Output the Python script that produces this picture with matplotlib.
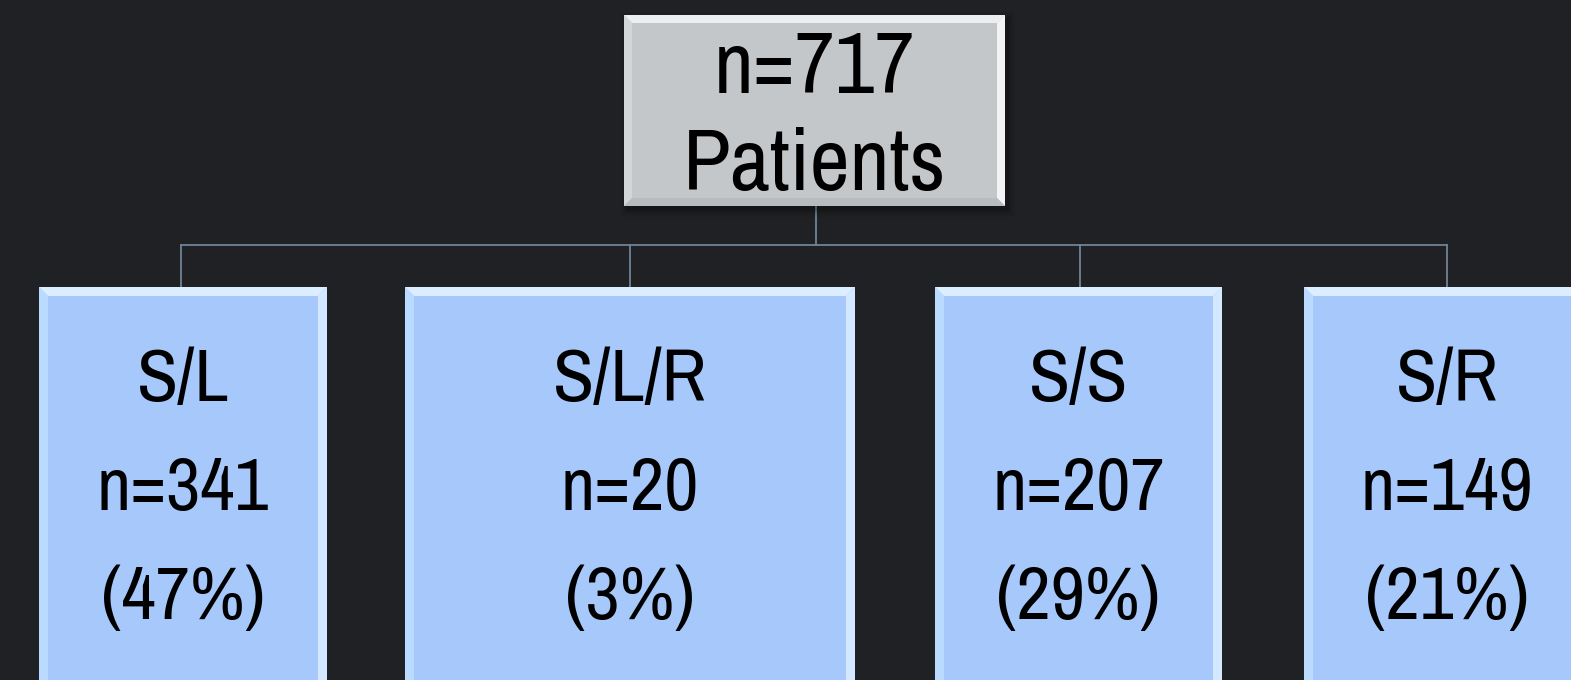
import matplotlib
matplotlib.use("Agg")
import matplotlib.pyplot as plt
from matplotlib.patches import Rectangle, Polygon
from matplotlib import font_manager

root_label = ["n=717", "Patients"]
labels = ["S/L", "S/L/R", "S/S", "S/R"]
counts = [341, 20, 207, 149]
percents = [47, 3, 29, 21]

W, H = 1571, 680
fig = plt.figure(figsize=(W / 100, H / 100), dpi=100)
fig.patch.set_facecolor("#202124")
ax = fig.add_axes([0, 0, 1, 1])
ax.set_xlim(0, W)
ax.set_ylim(H, 0)
ax.axis("off")

names = {f.name for f in font_manager.fontManager.ttflist}
fam_list = [f for f in ["Archivo Narrow", "Roboto Condensed", "DejaVu Sans"] if f in names] + ["DejaVu Sans"]

# layout (pixels)
root_box = (624, 15, 1005, 206)
child_boxes = [(39, 287, 327, 700), (405, 287, 855, 700), (935, 287, 1222, 700), (1304, 287, 1590, 700)]
child_cx = [181, 630, 1080, 1447]
bus_y = 245
line_col = "#6f8397"


def bevel_box(x0, y0, x1, y1, face, top, left, right, bottom, b=9, shadow=False):
    if shadow:
        for i, a in enumerate([0.12, 0.09, 0.06, 0.04]):
            d = 1 + i * 2
            ax.add_patch(Rectangle((x0 - d + 3, y0 - d + 4), (x1 - x0) + 2 * d, (y1 - y0) + 2 * d,
                                   facecolor="black", edgecolor="none", alpha=a, zorder=1))
    ax.add_patch(Rectangle((x0, y0), x1 - x0, y1 - y0, facecolor=face, edgecolor="none", zorder=2))
    ax.add_patch(Polygon([(x0, y0), (x1, y0), (x1 - b, y0 + b), (x0 + b, y0 + b)], closed=True,
                         facecolor=top, edgecolor="none", zorder=3))
    ax.add_patch(Polygon([(x0, y0), (x0 + b, y0 + b), (x0 + b, y1 - b), (x0, y1)], closed=True,
                         facecolor=left, edgecolor="none", zorder=3))
    ax.add_patch(Polygon([(x1, y0), (x1 - b, y0 + b), (x1 - b, y1 - b), (x1, y1)], closed=True,
                         facecolor=right, edgecolor="none", zorder=3))
    ax.add_patch(Polygon([(x0, y1), (x0 + b, y1 - b), (x1 - b, y1 - b), (x1, y1)], closed=True,
                         facecolor=bottom, edgecolor="none", zorder=3))


# connectors
cx_root = (root_box[0] + root_box[2]) / 2 + 2
ax.plot([cx_root, cx_root], [root_box[3], bus_y], color=line_col, lw=1.3, zorder=1)
ax.plot([child_cx[0], child_cx[-1]], [bus_y, bus_y], color=line_col, lw=1.3, zorder=1)
for cx in child_cx:
    ax.plot([cx, cx], [bus_y, 287], color=line_col, lw=1.3, zorder=1)

# root box
bevel_box(*root_box, face="#c4c7ca", top="#eceef0", left="#d3d6d8", right="#f2f3f4",
          bottom="#b9bcbf", b=8, shadow=True)
rcx = (root_box[0] + root_box[2]) / 2
for txt, yb in zip(root_label, [93, 190]):
    ax.text(rcx, yb, txt, ha="center", va="baseline", fontsize=63, family=fam_list,
            color="black", zorder=5)

# child boxes
for box, cx, lab, n, p in zip(child_boxes, child_cx, labels, counts, percents):
    x0, y0, x1, y1 = box
    bevel_box(x0, y0, x1, y1, face="#a6c8fb", top="#dcedff", left="#badaff", right="#d4e8ff",
              bottom="#a6c8fb", b=9)
    tcx = (x0 + x1) / 2 if x1 <= W else cx
    for txt, yb in zip([lab, f"n={n}", f"({p}%)"], [401, 510, 619]):
        ax.text(tcx, yb, txt, ha="center", va="baseline", fontsize=54, family=fam_list,
                color="black", zorder=5)

fig.savefig("out.png", dpi=100, facecolor=fig.get_facecolor())
